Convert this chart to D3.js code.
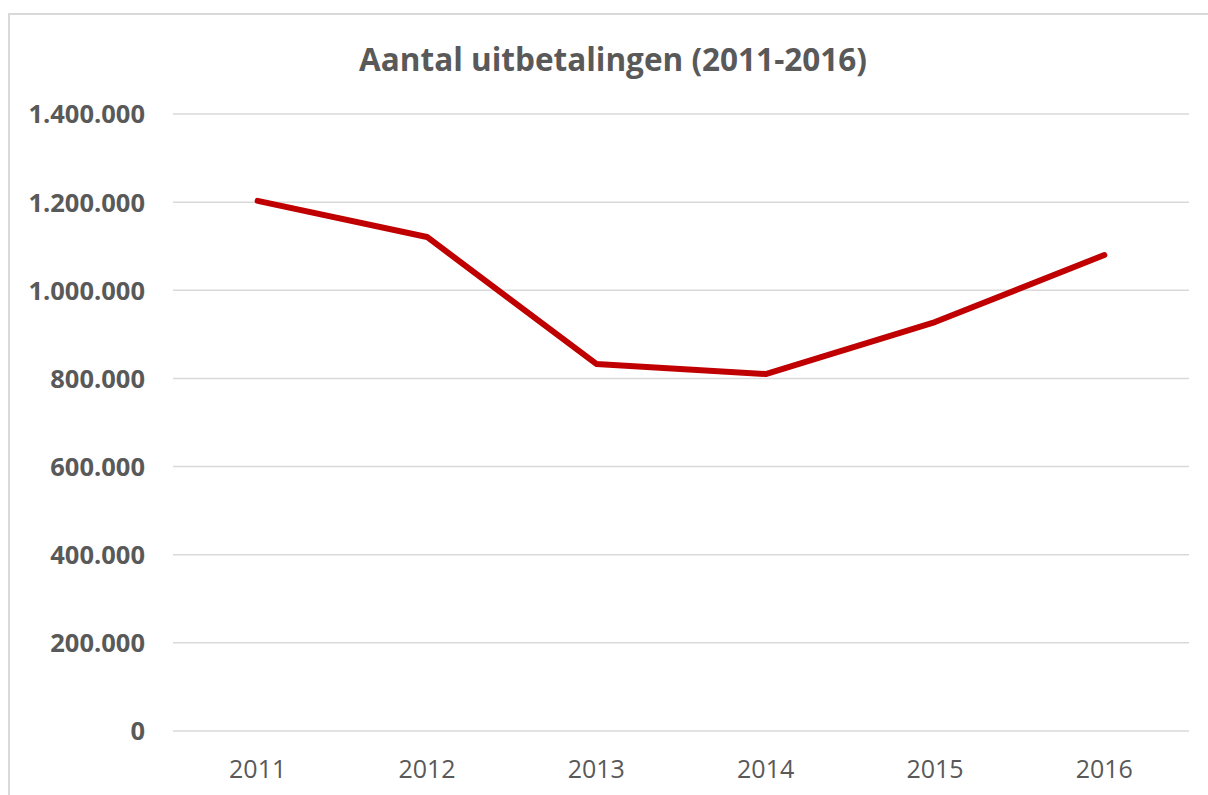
<!DOCTYPE html>
<html>
<head>
<meta charset="utf-8">
<script src="https://cdn.jsdelivr.net/npm/d3@7"></script>
<style>
  body { margin: 0; background: #fff; }
  svg text { font-family: "Open Sans", sans-serif; fill: #595959; }
</style>
</head>
<body>
<svg id="chart" width="1208" height="795"></svg>
<script>
const years = ["2011", "2012", "2013", "2014", "2015", "2016"];
const payouts = [1203000, 1121000, 833000, 810000, 928000, 1080000];
const yTicks = [0, 200000, 400000, 600000, 800000, 1000000, 1200000, 1400000];
const title = "Aantal uitbetalingen (2011-2016)";

const svg = d3.select("#chart");
const margin = { left: 173, right: 19, top: 114, bottom: 64 };
const width = 1208, height = 795;

// chart frame (only top and left visible)
svg.append("rect")
    .attr("x", 9).attr("y", 14)
    .attr("width", 1220).attr("height", 820)
    .style("fill", "none")
    .style("stroke", "#d9d9d9")
    .style("stroke-width", 2);

const x = d3.scaleBand()
    .domain(years)
    .range([margin.left, width - margin.right]);

const y = d3.scaleLinear()
    .domain([0, 1400000])
    .range([height - margin.bottom, margin.top]);

const fmt = v => d3.format(",")(v).replace(/,/g, ".");

// gridlines
svg.append("g")
    .selectAll("line")
    .data(yTicks)
    .enter()
    .append("line")
    .attr("x1", margin.left)
    .attr("x2", width - margin.right)
    .attr("y1", d => y(d))
    .attr("y2", d => y(d))
    .style("stroke", "#d9d9d9")
    .style("stroke-width", 1.5);

// y labels
const yAxis = svg.append("g")
    .attr("transform", `translate(${margin.left - 28},0)`)
    .call(d3.axisLeft(y).tickValues(yTicks).tickFormat(fmt).tickSize(0).tickPadding(0));
yAxis.select(".domain").remove();
yAxis.selectAll("text")
    .style("font-size", "25.5px")
    .style("font-weight", "bold")
    .attr("dy", "0.35em");

// x labels
const xAxis = svg.append("g")
    .attr("transform", `translate(0,${height - margin.bottom})`)
    .call(d3.axisBottom(x).tickSize(0).tickPadding(0));
xAxis.select(".domain").remove();
xAxis.selectAll("text")
    .style("font-size", "25px")
    .attr("y", 47)
    .attr("dy", 0);

// line
const line = d3.line()
    .x((d, i) => x(years[i]) + x.bandwidth() / 2)
    .y(d => y(d));

svg.append("path")
    .datum(payouts)
    .attr("d", line)
    .style("fill", "none")
    .style("stroke", "#c00000")
    .style("stroke-width", 6)
    .style("stroke-linecap", "round")
    .style("stroke-linejoin", "round");

// title
svg.append("text")
    .attr("x", 613)
    .attr("y", 71)
    .attr("text-anchor", "middle")
    .style("font-size", "31.5px")
    .style("font-weight", "bold")
    .text(title);
</script>
</body>
</html>
